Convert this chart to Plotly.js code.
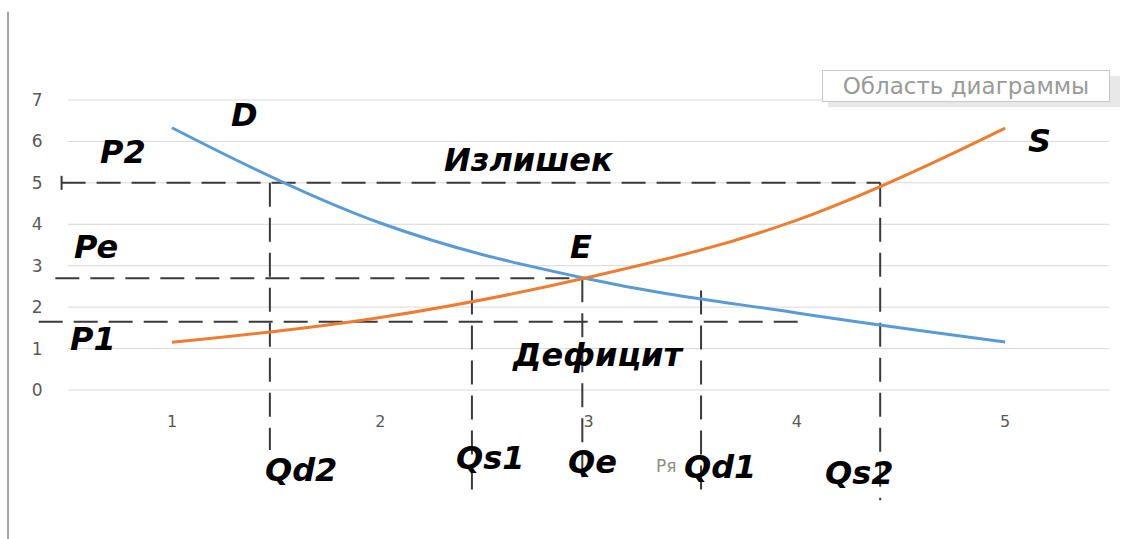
<!DOCTYPE html>
<html>
<head>
<meta charset="utf-8">
<script src="https://cdn.plot.ly/plotly-3.0.1.min.js"></script>
<style>html,body{margin:0;padding:0;background:#fff}#chart{width:1142px;height:539px}</style>
</head>
<body>
<div id="chart"></div>
<script>
// ---- data ----
const quantities = [1, 2, 3, 4, 5];
const demand = [6.33, 4.03, 2.68, 1.86, 1.16];
const supply = [1.15, 1.75, 2.72, 4.1, 6.32];
const yTicks = [0, 1, 2, 3, 4, 5, 6, 7];
const xTicks = [1, 2, 3, 4, 5];

// guide (dashed) lines: price levels
const priceLevels = [5, 2.7, 1.65];
const priceFrom = [0.47, 0.44, 0.36];
const priceTo = [4.4, 2.97, 4.02];
// guide (dashed) lines: quantity levels
const qtyLevels = [1.47, 2.44, 2.97, 3.54, 4.4];
const qtyTop = [5, 2.4, 2.7, 2.4, 5];
const qtyBottom = [-1.45, -2.66, -2.35, -2.6, -2.66];

// ---- build ----
const gx = [], gy = [];
priceLevels.forEach((p, i) => { gx.push(priceFrom[i], priceTo[i], null); gy.push(p, p, null); });
qtyLevels.forEach((q, i) => { gx.push(q, q, null); gy.push(qtyTop[i], qtyBottom[i], null); });

const traces = [
  {x: gx, y: gy, mode: 'lines', line: {color: '#3a3a3a', width: 2, dash: '24px,11px'}, hoverinfo: 'skip', showlegend: false},
  {x: [priceFrom[0]], y: [priceLevels[0]], mode: 'markers', marker: {symbol: 'line-ns', size: 10, line: {color: '#3a3a3a', width: 2}}, showlegend: false, hoverinfo: 'skip'},
  {x: quantities, y: demand, mode: 'lines', line: {color: '#5b9bd5', width: 3, shape: 'spline', smoothing: 1.1}, showlegend: false},
  {x: quantities, y: supply, mode: 'lines', line: {color: '#ed7d31', width: 3, shape: 'spline', smoothing: 1.1}, showlegend: false}
];

const shapes = yTicks.map(v => ({type: 'line', xref: 'x', yref: 'y', x0: 0.5, x1: 5.5, y0: v, y1: v, layer: 'below', line: {color: '#d9d9d9', width: 1}}));
shapes.push({type: 'line', xref: 'paper', yref: 'paper', x0: 0.007, x1: 0.007, y0: 0, y1: 0.978, line: {color: '#a6a6a6', width: 2}});
// tooltip shadow
shapes.push({type: 'rect', xref: 'paper', yref: 'paper', x0: 828/1142, x1: 1120/1142, y0: 1 - 107/539, y1: 1 - 76/539, fillcolor: '#e8e8e8', line: {width: 0}});

const lblFont = {family: 'DejaVu Sans', size: 32, color: '#000', weight: 'bold', style: 'italic'};
const labels = [
  ['D', 1.346, 6.64], ['P2', 0.765, 5.74], ['Pe', 0.635, 3.45], ['P1', 0.62, 1.23],
  ['Излишек', 2.714, 5.55], ['S', 5.167, 6.01], ['E', 2.963, 3.45], ['Дефицит', 3.05, 0.845],
  ['Qd2', 1.62, -1.93], ['Qs1', 2.527, -1.64], ['Qe', 3.02, -1.74], ['Qd1', 3.63, -1.86], ['Qs2', 4.30, -2.0]
];
const annotations = [];
annotations.push({text: 'Ря', x: 3.37, y: -1.83, xref: 'x', yref: 'y', showarrow: false, font: {family: 'DejaVu Sans', size: 17, color: '#8c8c8c'}});
labels.forEach(l => annotations.push({text: l[0], x: l[1], y: l[2], xref: 'x', yref: 'y', showarrow: false, font: lblFont}));
annotations.push({text: 'Область диаграммы', xref: 'paper', yref: 'paper', x: 966/1142, y: 1 - 86/539, xanchor: 'center', yanchor: 'middle', showarrow: false,
  font: {family: 'DejaVu Sans', size: 23, color: '#9a9a9a'}, bgcolor: '#ffffff', bordercolor: '#c8c8c8', borderwidth: 1, width: 284, height: 28, borderpad: 1});

const layout = {
  width: 1142, height: 539,
  margin: {l: 0, r: 0, t: 0, b: 0},
  paper_bgcolor: '#ffffff', plot_bgcolor: 'rgba(0,0,0,0)',
  showlegend: false,
  xaxis: {domain: [0, 1], range: [0.1743, 5.657], anchor: 'free', position: (539 - 390) / 539,
    showgrid: false, zeroline: false, showline: false, tickvals: xTicks, ticktext: xTicks.map(String),
    ticks: 'outside', ticklen: 17, tickcolor: 'rgba(0,0,0,0)', tickfont: {family: 'DejaVu Sans', size: 16, color: '#595959'}},
  yaxis: {domain: [0, 1], range: [-3.596, 9.413], anchor: 'free', position: 68 / 1142,
    showgrid: false, zeroline: false, showline: false, tickvals: yTicks, ticktext: yTicks.map(String),
    ticks: 'outside', ticklen: 22, tickcolor: 'rgba(0,0,0,0)', tickfont: {family: 'DejaVu Sans', size: 17, color: '#595959'}},
  shapes: shapes,
  annotations: annotations,
  hovermode: false
};

Plotly.newPlot('chart', traces, layout, {staticPlot: true, displayModeBar: false});
</script>
</body>
</html>
